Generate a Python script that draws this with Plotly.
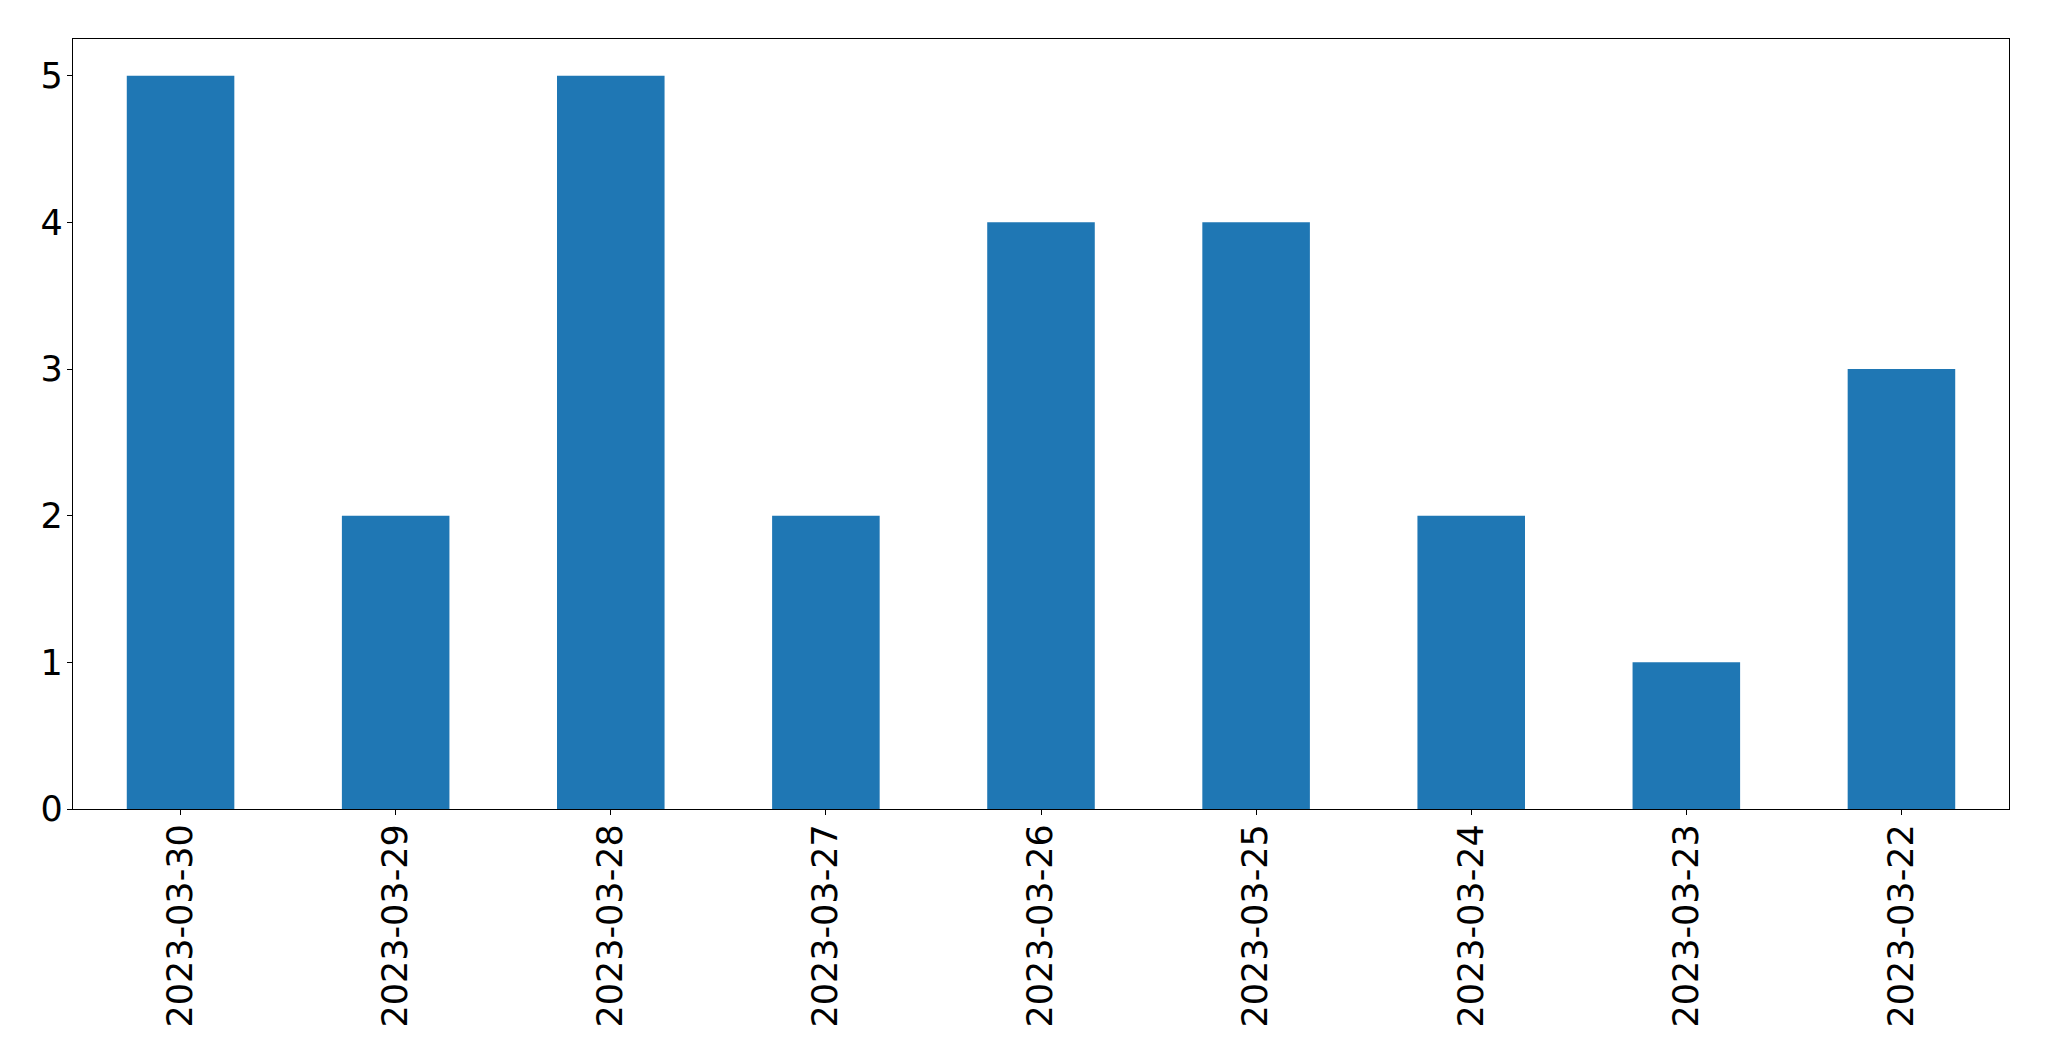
import plotly.graph_objects as go

dates = ["2023-03-30", "2023-03-29", "2023-03-28", "2023-03-27", "2023-03-26",
         "2023-03-25", "2023-03-24", "2023-03-23", "2023-03-22"]
counts = [5, 2, 5, 2, 4, 4, 2, 1, 3]

fig = go.Figure(go.Bar(x=dates, y=counts, width=0.5, marker=dict(color="#1f77b4", line=dict(width=0))))

font = dict(family="DejaVu Sans", size=35, color="black")
fig.update_layout(
    width=2041, height=1053,
    margin=dict(l=64.5, r=39.7, t=31.3, b=252, autoexpand=False),
    plot_bgcolor="white", paper_bgcolor="white",
    showlegend=False,
    font=font,
)
fig.update_xaxes(
    type="category", range=[-0.5, 8.5], tickangle=-90, automargin=False,
    showline=True, mirror=True, linecolor="black", linewidth=1.4,
    ticks="outside", ticklen=5, tickwidth=1.2, tickcolor="black",
    showgrid=False, zeroline=False, tickfont=font, ticklabelstandoff=-5,
)
fig.update_yaxes(
    range=[0, 5.25], tickvals=[0, 1, 2, 3, 4, 5], automargin=False,
    showline=True, mirror=True, linecolor="black", linewidth=1.4,
    ticks="outside", ticklen=5, tickwidth=1.2, tickcolor="black",
    showgrid=False, zeroline=False, tickfont=font, ticklabelstandoff=-3,
)
fig.write_html("out.html")
